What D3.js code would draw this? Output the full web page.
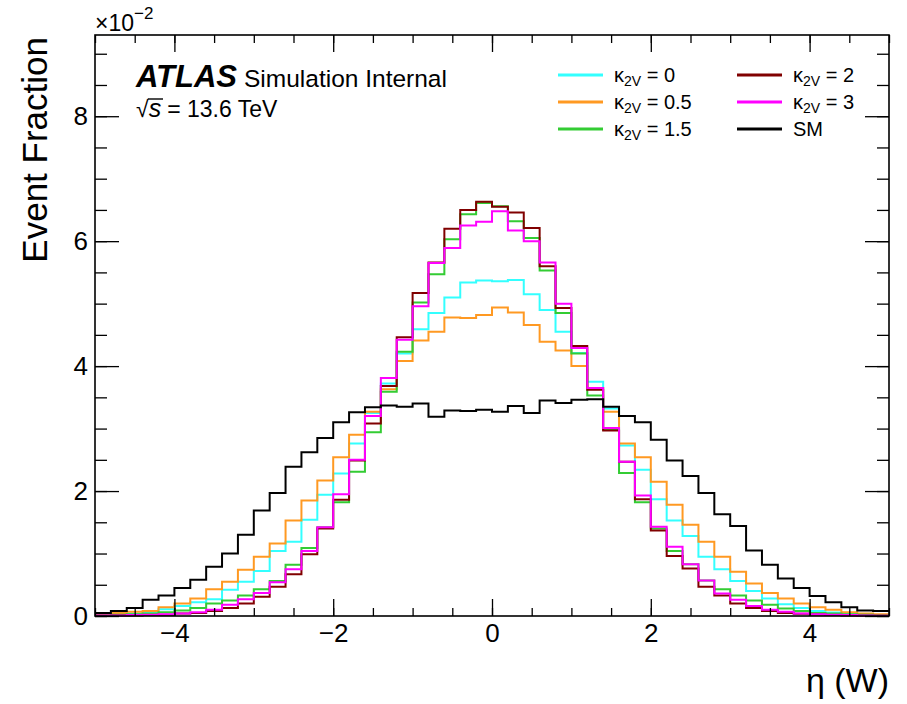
<!DOCTYPE html>
<head>
  <meta charset="utf-8">
  <script src="https://cdn.jsdelivr.net/npm/d3@7"></script>
  <style>
    body { margin:0; background:#fff; }
    text { font-family: "Liberation Sans", Arial, Helvetica, sans-serif; fill:#000; }
  </style>
</head>

<body>
<script>
  var width = 907, height = 704;
  var margin = {top: 35, right: 18, bottom: 88, left: 95};

  // binning: 50 bins of 0.2 between -5 and 5
  var binLo = -5, binW = 0.2, nBins = 50;

  // event fraction per bin, in units of 1e-2
  var kv0 = [0.02, 0.03, 0.04, 0.06, 0.11, 0.16, 0.22, 0.27, 0.42, 0.55,
             0.72, 1.04, 1.19, 1.54, 1.94, 2.28, 2.76, 3.25, 3.72, 4.20,
             4.59, 4.85, 5.10, 5.34, 5.37, 5.36, 5.38, 5.15, 4.90, 4.55,
             4.21, 3.75, 3.32, 2.73, 2.34, 1.87, 1.53, 1.28, 0.95, 0.75,
             0.56, 0.40, 0.28, 0.19, 0.13, 0.08, 0.055, 0.03, 0.02, 0.015];
  var kv05 = [0.03, 0.05, 0.07, 0.08, 0.14, 0.20, 0.28, 0.43, 0.55, 0.74,
              0.95, 1.16, 1.53, 1.85, 2.17, 2.54, 2.90, 3.27, 3.63, 4.08,
              4.41, 4.55, 4.78, 4.77, 4.82, 4.94, 4.86, 4.66, 4.39, 4.25,
              4.00, 3.65, 3.27, 2.76, 2.54, 2.15, 1.78, 1.46, 1.19, 0.95,
              0.71, 0.52, 0.37, 0.28, 0.20, 0.14, 0.10, 0.06, 0.04, 0.03];
  var kv15 = [0.01, 0.02, 0.03, 0.04, 0.06, 0.09, 0.13, 0.20, 0.25, 0.33,
              0.43, 0.56, 0.82, 1.09, 1.42, 1.82, 2.31, 2.94, 3.59, 4.23,
              5.02, 5.47, 6.03, 6.43, 6.61, 6.56, 6.32, 6.05, 5.53, 4.85,
              4.20, 3.53, 2.98, 2.29, 1.82, 1.40, 1.04, 0.83, 0.57, 0.43,
              0.33, 0.25, 0.18, 0.12, 0.08, 0.05, 0.04, 0.03, 0.02, 0.01];
  var kv2 = [0.005, 0.01, 0.01, 0.015, 0.02, 0.04, 0.05, 0.08, 0.13, 0.20,
             0.31, 0.47, 0.67, 0.99, 1.40, 1.86, 2.49, 3.08, 3.68, 4.46,
             5.17, 5.66, 6.20, 6.50, 6.63, 6.55, 6.46, 6.21, 5.60, 4.93,
             4.32, 3.62, 2.97, 2.47, 1.87, 1.37, 0.96, 0.76, 0.47, 0.33,
             0.20, 0.13, 0.08, 0.05, 0.035, 0.025, 0.015, 0.01, 0.005, 0.005];
  var kv3 = [0.01, 0.01, 0.015, 0.02, 0.03, 0.04, 0.06, 0.10, 0.18, 0.27,
             0.37, 0.54, 0.75, 1.04, 1.42, 1.95, 2.50, 3.20, 3.81, 4.42,
             4.96, 5.65, 5.89, 6.25, 6.31, 6.48, 6.17, 6.00, 5.66, 5.00,
             4.29, 3.65, 3.01, 2.47, 1.93, 1.43, 1.11, 0.83, 0.57, 0.36,
             0.26, 0.16, 0.10, 0.07, 0.04, 0.03, 0.02, 0.015, 0.01, 0.005];
  var sm = [0.05, 0.08, 0.13, 0.26, 0.33, 0.45, 0.58, 0.79, 1.00, 1.30,
            1.69, 1.97, 2.39, 2.62, 2.85, 3.10, 3.26, 3.34, 3.37, 3.35,
            3.40, 3.19, 3.29, 3.28, 3.30, 3.27, 3.36, 3.25, 3.45, 3.41,
            3.46, 3.47, 3.35, 3.20, 3.10, 2.82, 2.49, 2.24, 1.97, 1.63,
            1.44, 1.05, 0.82, 0.60, 0.45, 0.32, 0.22, 0.14, 0.09, 0.08];

  var labels = ["0", "0.5", "1.5", "2", "3", "SM"];
  var colors = ["#33ffff", "#ff9922", "#33cc33", "#800000", "#ff00ff", "#000000"];
  var series = [kv0, kv05, kv15, kv2, kv3, sm];

  var xMajor = [-4, -2, 0, 2, 4];
  var yMajor = [0, 2, 4, 6, 8];

  var svg = d3.select("body").append("svg")
    .attr("width", width)
    .attr("height", height);

  var x = d3.scaleLinear().domain([-5, 5]).range([margin.left, width - margin.right]);
  var y = d3.scaleLinear().domain([0, 9.3]).range([height - margin.bottom, margin.top]);

  // histograms as step lines
  var line = d3.line()
    .x(function(d) { return x(d[0]); })
    .y(function(d) { return y(d[1]); })
    .curve(d3.curveStepAfter);

  series.forEach(function(vals, k) {
    var pts = vals.map(function(v, i) { return [binLo + i * binW, v]; });
    pts.push([binLo + nBins * binW, vals[vals.length - 1]]);
    svg.append("path")
      .attr("d", line(pts))
      .attr("fill", "none")
      .attr("stroke", colors[k])
      .attr("stroke-width", 2);
  });

  // axes, ROOT style: ticks inside the frame on all four sides
  var xMinor = d3.range(-5, 5.001, 0.5);
  var yMinor = d3.range(0, 9.301, 0.5);
  var fmt = d3.format("d");
  var x0 = x.range()[0], x1 = x.range()[1], y0 = y.range()[0], y1 = y.range()[1];

  function clean(g) {
    g.select(".domain").remove();
    g.selectAll("line").attr("stroke", "#000").attr("stroke-width", 1.3);
    g.selectAll("text").attr("font-size", 26).attr("fill", "#000")
      .style("font-family", "'Liberation Sans', Arial, sans-serif");
  }

  svg.append("g").attr("transform", "translate(0," + y0 + ")")
    .call(d3.axisBottom(x).tickValues(xMinor).tickSize(-8).tickFormat(""))
    .call(clean);
  svg.append("g").attr("transform", "translate(0," + y0 + ")")
    .call(d3.axisBottom(x).tickValues(xMajor).tickSize(-17).tickPadding(8).tickFormat(fmt))
    .call(clean);
  svg.append("g").attr("transform", "translate(0," + y1 + ")")
    .call(d3.axisTop(x).tickValues(xMinor).tickSize(-8).tickFormat(""))
    .call(clean);
  svg.append("g").attr("transform", "translate(0," + y1 + ")")
    .call(d3.axisTop(x).tickValues(xMajor).tickSize(-17).tickFormat(""))
    .call(clean);

  svg.append("g").attr("transform", "translate(" + x0 + ",0)")
    .call(d3.axisLeft(y).tickValues(yMinor).tickSize(-12).tickFormat(""))
    .call(clean);
  svg.append("g").attr("transform", "translate(" + x0 + ",0)")
    .call(d3.axisLeft(y).tickValues(yMajor).tickSize(-24).tickPadding(7).tickFormat(fmt))
    .call(clean);
  svg.append("g").attr("transform", "translate(" + x1 + ",0)")
    .call(d3.axisRight(y).tickValues(yMinor).tickSize(-12).tickFormat(""))
    .call(clean);
  svg.append("g").attr("transform", "translate(" + x1 + ",0)")
    .call(d3.axisRight(y).tickValues(yMajor).tickSize(-24).tickFormat(""))
    .call(clean);

  // frame
  svg.append("rect")
    .attr("x", x0).attr("y", y1)
    .attr("width", x1 - x0).attr("height", y0 - y1)
    .attr("fill", "none").attr("stroke", "#000").attr("stroke-width", 1.6);

  // axis titles
  svg.append("text")
    .attr("transform", "translate(47," + (y1 + 2) + ") rotate(-90)")
    .attr("text-anchor", "end")
    .attr("font-size", 35)
    .text("Event Fraction");
  svg.append("text")
    .attr("x", x1).attr("y", 692)
    .attr("text-anchor", "end")
    .attr("font-size", 34)
    .text("η (W)");

  // exponent
  var ex = svg.append("text").attr("x", 95).attr("y", 31).attr("font-size", 23);
  ex.append("tspan").text("×10");
  ex.append("tspan").attr("dy", -12).attr("font-size", 17).text("−2");

  // ATLAS label
  svg.append("text")
    .attr("x", 136).attr("y", 87)
    .attr("font-size", 31).attr("font-weight", "bold").attr("font-style", "italic")
    .text("ATLAS");
  svg.append("text")
    .attr("x", 244).attr("y", 87)
    .attr("font-size", 24.5)
    .text("Simulation Internal");
  var rs = svg.append("text").attr("x", 136).attr("y", 117).attr("font-size", 23);
  rs.append("tspan").text("√");
  rs.append("tspan").attr("font-size", 25).attr("font-style", "italic").text("s");
  rs.append("tspan").attr("dx", 6).text("= 13.6 TeV");
  svg.append("line")
    .attr("x1", 148).attr("x2", 163).attr("y1", 99).attr("y2", 99)
    .attr("stroke", "#000").attr("stroke-width", 1.4);

  // legend, two columns of three
  var legX = [558, 737], legY = [75, 102, 129];
  labels.forEach(function(lab, k) {
    var cx = legX[Math.floor(k / 3)], cy = legY[k % 3];
    svg.append("line")
      .attr("x1", cx).attr("x2", cx + 45)
      .attr("y1", cy).attr("y2", cy)
      .attr("stroke", colors[k]).attr("stroke-width", 3);
    var t = svg.append("text")
      .attr("x", cx + 56).attr("y", cy + 7)
      .attr("font-size", 20);
    if (lab === "SM") {
      t.text("SM");
    } else {
      t.append("tspan").text("κ");
      t.append("tspan").attr("dy", 4).attr("font-size", 14).text("2V");
      t.append("tspan").attr("dy", -4).text(" = " + lab);
    }
  });
</script>
</body>
